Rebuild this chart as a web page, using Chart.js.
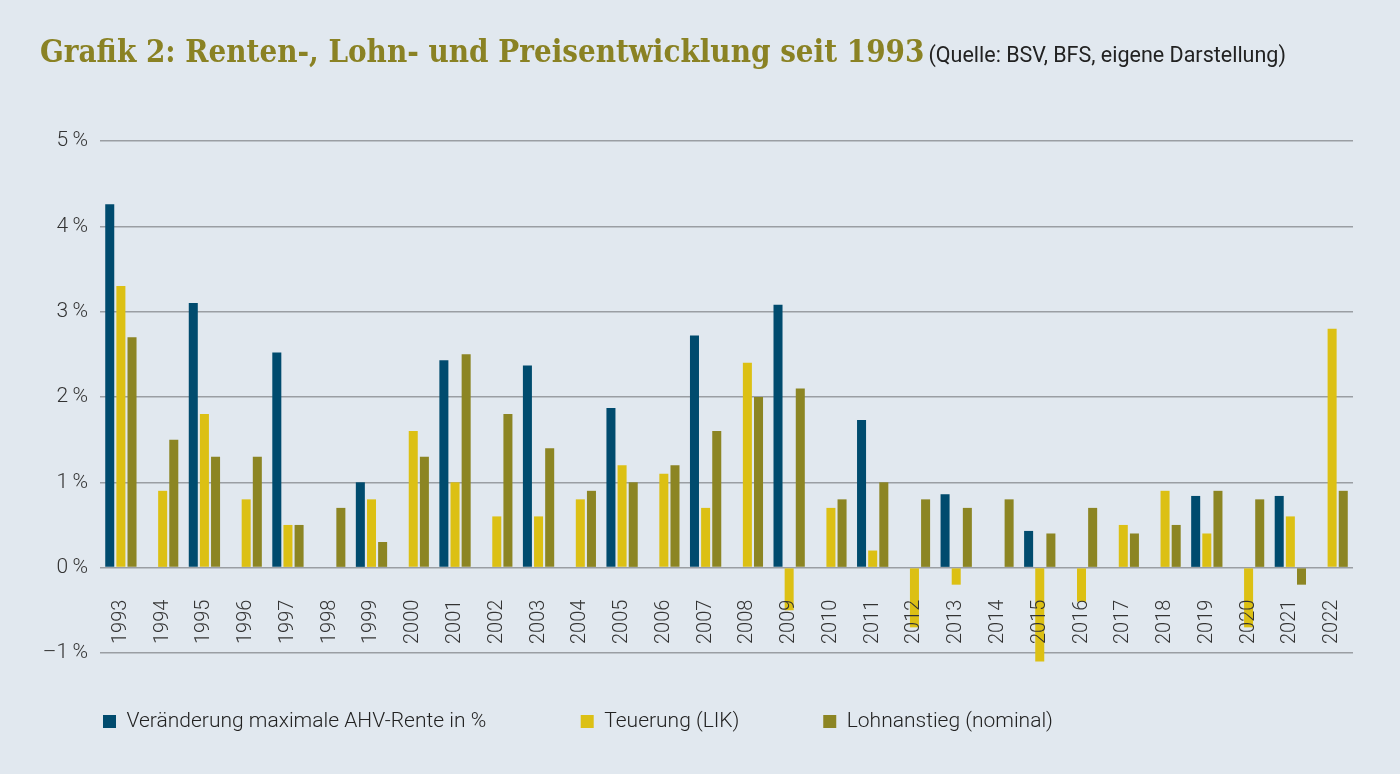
<!DOCTYPE html>
<html>
<head>
<meta charset="utf-8">
<script src="https://cdn.jsdelivr.net/npm/chart.js@4"></script>
<style>
  html, body { margin: 0; padding: 0; background: #e1e8ef; }
  #wrap { position: relative; width: 1400px; height: 774px; }
  #title { position: absolute; left: 40px; top: 33px; white-space: nowrap; }
  #title .main { font-family: "DejaVu Serif", serif; font-stretch: condensed; font-weight: bold; font-size: 31px; color: #8a8224; }
  #title .src { font-family: Roboto, sans-serif; font-size: 21.5px; color: #222; }
  canvas { position: absolute; left: 0; top: 0; }
</style>
</head>
<body>
<div id="wrap">
  <canvas id="chart" width="1400" height="774"></canvas>
  <div id="title"><span class="main">Grafik 2: Renten-, Lohn- und Preisentwicklung seit 1993</span> <span class="src">(Quelle: BSV, BFS, eigene Darstellung)</span></div>
</div>
<script>
// Jahre
const years = ['1993','1994','1995','1996','1997','1998','1999','2000','2001','2002',
  '2003','2004','2005','2006','2007','2008','2009','2010','2011','2012',
  '2013','2014','2015','2016','2017','2018','2019','2020','2021','2022'];

// Veränderung maximale AHV-Rente in %
const ahvRente = [4.26, null, 3.10, null, 2.52, null, 1.0, null, 2.43, null,
  2.37, null, 1.87, null, 2.72, null, 3.08, null, 1.73, null,
  0.86, null, 0.43, null, null, null, 0.84, null, 0.84, null];

// Teuerung (LIK)
const teuerung = [3.3, 0.9, 1.8, 0.8, 0.5, 0.0, 0.8, 1.6, 1.0, 0.6,
  0.6, 0.8, 1.2, 1.1, 0.7, 2.4, -0.5, 0.7, 0.2, -0.7,
  -0.2, 0.0, -1.1, -0.4, 0.5, 0.9, 0.4, -0.7, 0.6, 2.8];

// Lohnanstieg (nominal)
const lohn = [2.7, 1.5, 1.3, 1.3, 0.5, 0.7, 0.3, 1.3, 2.5, 1.8,
  1.4, 0.9, 1.0, 1.2, 1.6, 2.0, 2.1, 0.8, 1.0, 0.8,
  0.7, 0.8, 0.4, 0.7, 0.4, 0.5, 0.9, 0.8, -0.2, 0.9];

const yTicks = [-1, 0, 1, 2, 3, 4, 5];

// Legende etwas nach rechts schieben (Achse links braucht mehr Platz)
const legendShift = {
  id: 'legendShift',
  afterLayout(chart) {
    chart.legend.left += 22;
    chart.legend.right += 22;
  }
};

const ctx = document.getElementById('chart').getContext('2d');
new Chart(ctx, {
  type: 'bar',
  data: {
    labels: years,
    datasets: [
      { label: 'Veränderung maximale AHV-Rente in %', data: ahvRente, backgroundColor: '#004b6e' },
      { label: 'Teuerung (LIK)', data: teuerung, backgroundColor: '#dcc014' },
      { label: 'Lohnanstieg (nominal)', data: lohn, backgroundColor: '#8c8523' }
    ]
  },
  options: {
    responsive: false,
    animation: false,
    categoryPercentage: 0.8,
    barPercentage: 0.81,
    layout: { padding: { left: 40, right: 47, top: 141, bottom: 32 } },
    plugins: {
      tooltip: { enabled: false },
      legend: {
        position: 'bottom',
        align: 'start',
        labels: {
          boxWidth: 13,
          boxHeight: 13,
          padding: 41,
          color: '#222',
          font: { family: 'Roboto', size: 21, weight: 300 },
          // mehr Abstand zwischen den Einträgen
          generateLabels: (chart) => {
            const items = Chart.defaults.plugins.legend.labels.generateLabels(chart);
            if (items[0]) items[0].text += '\u2003\u2003\u2002';
            if (items[1]) items[1].text += '\u2003\u2003';
            return items;
          }
        }
      }
    },
    scales: {
      x: {
        position: { y: 0 },
        grid: { display: false },
        border: { display: false },
        ticks: {
          z: 1,
          color: '#333',
          font: { family: 'Roboto', size: 20, weight: 300 },
          minRotation: 90,
          maxRotation: 90,
          padding: 24,
          autoSkip: false
        }
      },
      y: {
        min: -1.2,
        max: 5,
        afterBuildTicks: (axis) => { axis.ticks = yTicks.map(v => ({ value: v })); },
        afterFit: (axis) => { axis.width = 60; },
        grid: { color: '#9a9ea3', lineWidth: 1.5, drawTicks: false },
        border: { display: false },
        ticks: {
          color: '#333',
          font: { family: 'Roboto', size: 21, weight: 300 },
          padding: 12,
          callback: (v) => (v < 0 ? '\u2013' + Math.abs(v) : v) + '\u2009%'
        }
      }
    }
  },
  plugins: [legendShift]
});
</script>
</body>
</html>
